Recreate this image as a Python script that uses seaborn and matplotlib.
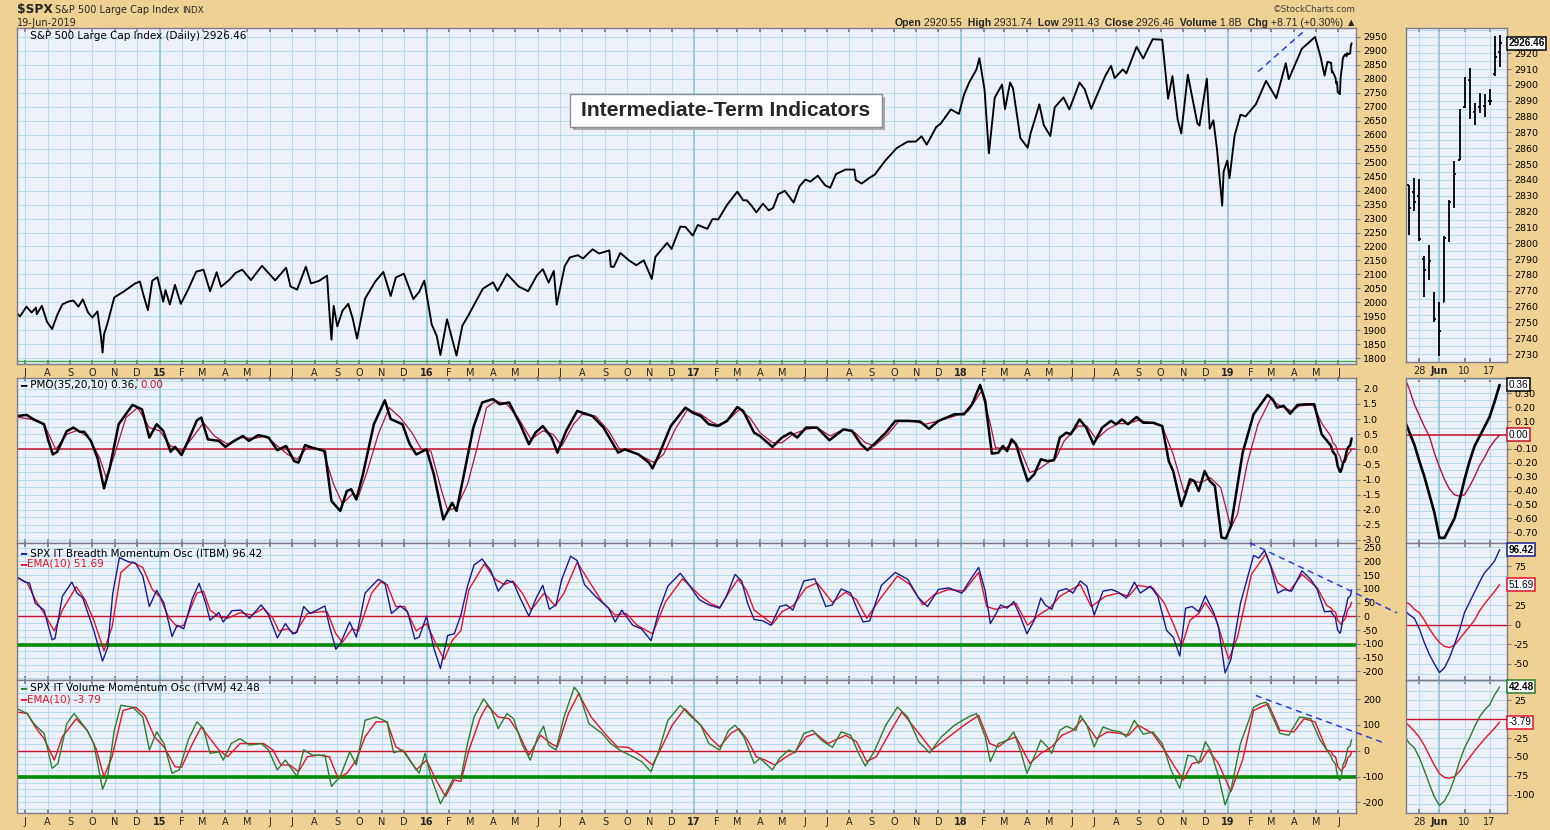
import numpy as np
import pandas as pd
import seaborn as sns
import matplotlib.pyplot as plt
from matplotlib.patches import Rectangle
from matplotlib.ticker import MultipleLocator, FormatStrFormatter
from matplotlib.transforms import blended_transform_factory
from matplotlib import font_manager

# ---------------- data ----------------

# S&P 500 daily, closes / swing extremes
price_dates = [
    "2014-06-20", "2014-06-24", "2014-07-03", "2014-07-10", "2014-07-16", "2014-07-17", "2014-07-24",
    "2014-07-31", "2014-08-07", "2014-08-14", "2014-08-21", "2014-08-29", "2014-09-05", "2014-09-12",
    "2014-09-18", "2014-09-25", "2014-10-01", "2014-10-08", "2014-10-13", "2014-10-15", "2014-10-17",
    "2014-10-22", "2014-10-31", "2014-11-13", "2014-11-28", "2014-12-05", "2014-12-10", "2014-12-16",
    "2014-12-22", "2014-12-29",
    "2015-01-06", "2015-01-09", "2015-01-15", "2015-01-22", "2015-01-30", "2015-02-09", "2015-02-20",
    "2015-03-02", "2015-03-11", "2015-03-20", "2015-03-26", "2015-04-06", "2015-04-15", "2015-04-24",
    "2015-05-06", "2015-05-21", "2015-06-08", "2015-06-23", "2015-06-29", "2015-07-08", "2015-07-20",
    "2015-07-27", "2015-08-07", "2015-08-18", "2015-08-21", "2015-08-24", "2015-08-27", "2015-09-01",
    "2015-09-08", "2015-09-16", "2015-09-22", "2015-09-28", "2015-10-09", "2015-10-23", "2015-11-03",
    "2015-11-13", "2015-11-20", "2015-12-01", "2015-12-09", "2015-12-14", "2015-12-22", "2015-12-29",
    "2016-01-08", "2016-01-15", "2016-01-20", "2016-01-29", "2016-02-11", "2016-02-19", "2016-02-26",
    "2016-03-18", "2016-04-01", "2016-04-07", "2016-04-20", "2016-05-06", "2016-05-19", "2016-05-31",
    "2016-06-08", "2016-06-16", "2016-06-23", "2016-06-27", "2016-07-08", "2016-07-15", "2016-07-26",
    "2016-08-02", "2016-08-15", "2016-08-24", "2016-09-07", "2016-09-09", "2016-09-13", "2016-09-22",
    "2016-10-04", "2016-10-14", "2016-10-24", "2016-11-04", "2016-11-09", "2016-11-25", "2016-12-01",
    "2016-12-13", "2016-12-20", "2016-12-30",
    "2017-01-06", "2017-01-19", "2017-01-26", "2017-02-03", "2017-02-15", "2017-03-01", "2017-03-09",
    "2017-03-14", "2017-03-21", "2017-03-27", "2017-04-05", "2017-04-13", "2017-04-19", "2017-04-26",
    "2017-05-05", "2017-05-17", "2017-05-25", "2017-06-02", "2017-06-09", "2017-06-19", "2017-06-29",
    "2017-07-06", "2017-07-14", "2017-07-27", "2017-08-08", "2017-08-10", "2017-08-18", "2017-08-29",
    "2017-09-05", "2017-09-19", "2017-10-05", "2017-10-20", "2017-10-31", "2017-11-08", "2017-11-15",
    "2017-11-28", "2017-12-04", "2017-12-18", "2017-12-29",
    "2018-01-05", "2018-01-12", "2018-01-22", "2018-01-26", "2018-02-02", "2018-02-05", "2018-02-08",
    "2018-02-16", "2018-02-26", "2018-03-02", "2018-03-09", "2018-03-13", "2018-03-23", "2018-04-02",
    "2018-04-06", "2018-04-18", "2018-04-24", "2018-05-03", "2018-05-09", "2018-05-21", "2018-05-29",
    "2018-06-12", "2018-06-19", "2018-06-28", "2018-07-05", "2018-07-17", "2018-07-25", "2018-07-30",
    "2018-08-10", "2018-08-15", "2018-08-29", "2018-09-07", "2018-09-20", "2018-10-03", "2018-10-11",
    "2018-10-17", "2018-10-24", "2018-10-29", "2018-11-07", "2018-11-20", "2018-11-23", "2018-12-03",
    "2018-12-07", "2018-12-12", "2018-12-17", "2018-12-24", "2018-12-26", "2018-12-31",
    "2019-01-03", "2019-01-10", "2019-01-18", "2019-01-25", "2019-02-08", "2019-02-22", "2019-03-08",
    "2019-03-21", "2019-03-25", "2019-04-12", "2019-04-30", "2019-05-07", "2019-05-13", "2019-05-17",
]
price_values = [
    1962, 1950, 1985, 1964, 1982, 1958, 1988, 1931, 1905, 1955, 1993, 2003, 2007, 1985,
    2011, 1965, 1946, 1968, 1874, 1821, 1886, 1928, 2018, 2039, 2067, 2075, 2026, 1972,
    2078, 2090,
    2003, 2044, 1993, 2063, 1995, 2046, 2110, 2117, 2040, 2108, 2056, 2080, 2106, 2117,
    2080, 2131, 2079, 2124, 2057, 2046, 2128, 2068, 2077, 2096, 1971, 1867, 1988, 1914,
    1970, 1995, 1943, 1871, 2014, 2075, 2109, 2023, 2089, 2103, 2047, 2012, 2038, 2078,
    1922, 1880, 1812, 1940, 1810, 1917, 1948, 2049, 2072, 2041, 2102, 2057, 2040, 2097,
    2119, 2071, 2113, 1992, 2130, 2161, 2169, 2157, 2190, 2175, 2186, 2128, 2127, 2177,
    2150, 2133, 2151, 2084, 2163, 2213, 2191, 2271, 2270, 2239,
    2277, 2263, 2298, 2297, 2349, 2396, 2365, 2365, 2344, 2322, 2353, 2329, 2338, 2387,
    2399, 2357, 2415, 2439, 2432, 2453, 2419, 2410, 2459, 2475, 2475, 2438, 2425, 2446,
    2457, 2506, 2552, 2575, 2575, 2594, 2564, 2627, 2639, 2690, 2674,
    2743, 2786, 2833, 2873, 2762, 2649, 2533, 2732, 2779, 2691, 2786, 2765, 2588, 2553,
    2604, 2708, 2634, 2595, 2697, 2733, 2690, 2786, 2762, 2692, 2736, 2809, 2846, 2802,
    2833, 2819, 2914, 2872, 2941, 2939, 2728, 2809, 2656, 2604, 2814, 2641, 2632, 2800,
    2621, 2651, 2546, 2346, 2468, 2507,
    2444, 2596, 2671, 2665, 2708, 2792, 2730, 2855, 2798, 2907, 2949, 2884, 2811, 2860,
]

# last four weeks, daily bars (zoom panel on the right)
recent_dates = [
    "2019-05-22", "2019-05-23", "2019-05-24", "2019-05-28", "2019-05-29", "2019-05-30", "2019-05-31",
    "2019-06-03", "2019-06-04", "2019-06-05", "2019-06-06", "2019-06-07", "2019-06-10", "2019-06-11",
    "2019-06-12", "2019-06-13", "2019-06-14", "2019-06-17", "2019-06-18", "2019-06-19",
]
recent_open = [2856.06, 2836.70, 2832.41, 2830.03, 2790.25, 2786.94, 2766.15, 2751.53, 2762.64, 2818.09,
               2828.51, 2852.87, 2885.83, 2903.27, 2882.73, 2886.24, 2886.82, 2889.75, 2906.71, 2920.55]
recent_high = [2868.88, 2836.70, 2841.36, 2840.51, 2792.03, 2799.00, 2768.98, 2763.07, 2804.49, 2827.28,
               2852.10, 2884.97, 2904.77, 2910.61, 2888.57, 2895.24, 2894.45, 2897.27, 2930.79, 2931.74]
recent_low = [2851.42, 2805.49, 2820.19, 2801.58, 2766.06, 2776.74, 2750.52, 2728.81, 2762.64, 2800.92,
              2822.45, 2852.87, 2885.51, 2878.53, 2874.68, 2881.99, 2879.62, 2887.30, 2905.44, 2911.43]
recent_close = [2856.27, 2822.24, 2826.06, 2802.39, 2783.02, 2788.86, 2752.06, 2744.45, 2803.27, 2826.15,
                2843.49, 2873.34, 2886.73, 2885.72, 2879.84, 2891.64, 2886.98, 2889.67, 2917.75, 2926.46]
recent_pmo = [0.11, 0.02, -0.07, -0.19, -0.30, -0.43, -0.56, -0.74, -0.74, -0.67,
              -0.60, -0.47, -0.32, -0.19, -0.08, -0.01, 0.06, 0.13, 0.24, 0.36]
recent_pmo_sig = [0.42, 0.33, 0.22, 0.14, 0.06, -0.01, -0.13, -0.23, -0.32, -0.39,
                  -0.43, -0.44, -0.43, -0.37, -0.30, -0.22, -0.16, -0.09, -0.04, 0.00]
recent_itbm = [19, 13, 8.5, -5, -23, -38, -50, -61, -55, -42, -25, -7, 16, 29, 42, 55, 67, 74, 82, 96.42]
recent_itbm_ema = [30, 27, 20, 15.5, 6, -5, -14.5, -22.5, -27.5, -29, -26, -18, -10, -2, 6, 18, 27, 35, 43, 51.69]
recent_itvm = [-22, -32, -38, -51, -68, -86, -103, -114, -108, -96, -78, -56, -38, -25, -10, 3, 12, 19, 32, 42.48]
recent_itvm_ema = [-3, -9, -16, -24, -35, -48, -61, -72, -77, -78, -76, -69, -60, -51, -42, -34, -26, -19, -12, -3.79]
recent_volume = "1.8B"

# PMO(35,20,10)
pmo_dates = [
    "2014-06-20", "2014-07-03", "2014-07-12", "2014-07-27", "2014-08-02", "2014-08-08", "2014-08-14",
    "2014-08-27", "2014-09-05", "2014-09-14", "2014-09-20", "2014-09-29", "2014-10-08", "2014-10-17",
    "2014-10-25", "2014-11-06", "2014-11-25", "2014-12-08", "2014-12-18", "2014-12-28",
    "2015-01-06", "2015-01-16", "2015-01-22", "2015-01-31", "2015-02-09", "2015-02-21", "2015-02-27",
    "2015-03-08", "2015-03-23", "2015-04-01", "2015-04-13", "2015-04-25", "2015-05-03", "2015-05-16",
    "2015-05-30", "2015-06-11", "2015-06-23", "2015-07-04", "2015-07-10", "2015-07-19", "2015-07-28",
    "2015-08-15", "2015-08-24", "2015-09-05", "2015-09-14", "2015-09-20", "2015-09-27", "2015-10-06",
    "2015-10-21", "2015-11-05", "2015-11-13", "2015-11-29", "2015-12-09", "2015-12-18",
    "2016-01-01", "2016-01-11", "2016-01-24", "2016-02-05", "2016-02-11", "2016-02-23", "2016-03-05",
    "2016-03-17", "2016-04-01", "2016-04-10", "2016-04-23", "2016-05-08", "2016-05-20", "2016-05-29",
    "2016-06-08", "2016-06-20", "2016-06-28", "2016-07-10", "2016-07-25", "2016-08-15", "2016-08-30",
    "2016-09-19", "2016-09-28", "2016-10-17", "2016-10-31", "2016-11-05", "2016-11-14", "2016-11-30",
    "2016-12-20", "2016-12-30",
    "2017-01-10", "2017-01-21", "2017-02-02", "2017-02-15", "2017-03-01", "2017-03-09", "2017-03-24",
    "2017-04-01", "2017-04-18", "2017-05-01", "2017-05-13", "2017-05-22", "2017-06-03", "2017-06-18",
    "2017-07-05", "2017-07-24", "2017-08-05", "2017-08-17", "2017-08-26", "2017-09-04", "2017-09-20",
    "2017-10-03", "2017-10-21", "2017-11-06", "2017-11-18", "2017-12-01", "2017-12-23",
    "2018-01-05", "2018-01-16", "2018-01-27", "2018-02-03", "2018-02-12", "2018-02-21", "2018-02-27",
    "2018-03-05", "2018-03-11", "2018-03-17", "2018-03-24", "2018-04-02", "2018-04-11", "2018-04-20",
    "2018-04-29", "2018-05-08", "2018-05-16", "2018-05-25", "2018-05-31", "2018-06-12", "2018-06-21",
    "2018-07-01", "2018-07-13", "2018-07-25", "2018-08-01", "2018-08-09", "2018-08-17", "2018-08-29",
    "2018-09-07", "2018-09-21", "2018-10-03", "2018-10-12", "2018-10-18", "2018-10-29", "2018-11-04",
    "2018-11-10", "2018-11-16", "2018-11-22", "2018-11-30", "2018-12-07", "2018-12-14", "2018-12-23",
    "2018-12-29",
    "2019-01-05", "2019-01-21", "2019-02-05", "2019-02-24", "2019-03-03", "2019-03-09", "2019-03-18",
    "2019-03-27", "2019-04-06", "2019-04-18", "2019-04-29", "2019-05-09",
]
pmo_values = [
    1.10, 1.14, 1.00, 0.83, 0.28, -0.17, -0.08, 0.60, 0.72, 0.58, 0.58, 0.28, -0.28, -1.29,
    -0.60, 0.83, 1.47, 1.32, 0.39, 0.83,
    0.61, -0.08, 0.08, -0.19, 0.28, 0.96, 1.05, 0.33, 0.28, 0.08, 0.28, 0.44, 0.28, 0.47,
    0.39, -0.03, 0.11, -0.39, -0.44, 0.14, 0.06, -0.06, -1.71, -2.04, -1.38, -1.32, -1.66, -0.83,
    0.83, 1.62, 1.00, 0.83, 0.17, -0.17,
    0.00, -0.83, -2.32, -1.77, -2.04, -0.61, 0.72, 1.55, 1.66, 1.49, 1.55, 0.83, 0.17, 0.55,
    0.77, 0.39, -0.11, 0.61, 1.27, 1.10, 0.72, -0.11, 0.00, -0.17, -0.44, -0.63, -0.17, 0.77,
    1.38, 1.21,
    1.10, 0.83, 0.77, 0.94, 1.40, 1.27, 0.55, 0.44, 0.08, 0.39, 0.55, 0.39, 0.72, 0.72,
    0.30, 0.66, 0.61, 0.17, -0.03, 0.17, 0.55, 0.94, 0.94, 0.92, 0.68, 0.94, 1.16,
    1.16, 1.49, 2.13, 1.60, -0.14, -0.11, 0.11, -0.06, 0.33, 0.17, -0.39, -1.05, -0.83, -0.33,
    -0.39, -0.36, 0.39, 0.55, 0.50, 0.99, 0.72, 0.17, 0.72, 0.94, 0.83, 0.99, 0.83, 1.07,
    0.88, 0.88, 0.77, -0.39, -0.72, -1.88, -1.49, -0.99, -1.05, -1.38, -0.72, -1.05, -1.21, -2.92,
    -2.95,
    -2.54, -0.11, 1.16, 1.80, 1.66, 1.38, 1.44, 1.18, 1.47, 1.49, 1.49, 0.50,
]
pmo_sig_dates = [
    "2014-06-20", "2014-07-10", "2014-07-27", "2014-08-12", "2014-08-27", "2014-09-11", "2014-09-26",
    "2014-10-11", "2014-10-20", "2014-10-30", "2014-11-16", "2014-12-02", "2014-12-18",
    "2015-01-01", "2015-01-16", "2015-01-31", "2015-02-15", "2015-03-02", "2015-03-17", "2015-04-04",
    "2015-04-21", "2015-05-10", "2015-05-26", "2015-06-11", "2015-06-25", "2015-07-08", "2015-07-22",
    "2015-08-12", "2015-08-27", "2015-09-08", "2015-09-21", "2015-09-30", "2015-10-12", "2015-10-27",
    "2015-11-11", "2015-11-26", "2015-12-12", "2015-12-25",
    "2016-01-07", "2016-01-23", "2016-01-30", "2016-02-11", "2016-02-26", "2016-03-09", "2016-03-23",
    "2016-04-05", "2016-04-20", "2016-05-05", "2016-05-23", "2016-06-08", "2016-06-22", "2016-07-04",
    "2016-07-20", "2016-08-01", "2016-08-19", "2016-09-06", "2016-09-21", "2016-10-03", "2016-10-21",
    "2016-11-07", "2016-11-20", "2016-12-06", "2016-12-23",
    "2017-01-10", "2017-01-24", "2017-02-05", "2017-02-20", "2017-03-04", "2017-03-18", "2017-04-01",
    "2017-04-18", "2017-05-01", "2017-05-16", "2017-06-03", "2017-06-18", "2017-07-06", "2017-07-24",
    "2017-08-09", "2017-08-23", "2017-09-04", "2017-09-23", "2017-10-08", "2017-10-26", "2017-11-13",
    "2017-12-01", "2017-12-23",
    "2018-01-11", "2018-01-29", "2018-02-09", "2018-02-17", "2018-03-02", "2018-03-14", "2018-03-24",
    "2018-04-05", "2018-04-17", "2018-05-02", "2018-05-11", "2018-05-22", "2018-06-10", "2018-06-22",
    "2018-07-05", "2018-07-20", "2018-08-04", "2018-08-18", "2018-08-31", "2018-09-17", "2018-10-03",
    "2018-10-18", "2018-11-02", "2018-11-13", "2018-11-25", "2018-12-08", "2018-12-22",
    "2019-01-05", "2019-01-14", "2019-01-27", "2019-02-11", "2019-02-28", "2019-03-13", "2019-03-29",
    "2019-04-09", "2019-04-27", "2019-05-10",
]
pmo_sig_values = [
    1.07, 0.99, 0.83, 0.00, 0.50, 0.63, 0.39, -0.28, -0.94, -0.28, 1.05, 1.38, 0.72,
    0.61, 0.11, -0.06, 0.39, 0.88, 0.44, 0.17, 0.39, 0.36, 0.44, 0.11, -0.17, -0.33, 0.06,
    0.00, -1.16, -1.80, -1.49, -1.55, -0.72, 0.50, 1.38, 1.05, 0.55, 0.00,
    -0.06, -1.49, -2.02, -1.93, -1.16, -0.06, 1.38, 1.60, 1.49, 1.05, 0.33, 0.61, 0.50, 0.11,
    0.83, 1.16, 1.10, 0.61, 0.00, -0.03, -0.22, -0.44, -0.17, 0.66, 1.32,
    1.16, 0.92, 0.77, 1.05, 1.32, 1.05, 0.55, 0.22, 0.22, 0.50, 0.66, 0.72, 0.44, 0.66,
    0.55, 0.22, 0.11, 0.50, 0.94, 0.94, 0.83, 0.94, 1.10,
    1.27, 1.93, 0.94, 0.06, 0.00, 0.28, -0.06, -0.77, -0.66, -0.41, -0.28, 0.28, 0.77, 0.77,
    0.33, 0.66, 0.85, 0.85, 0.96, 0.88, 0.77, -0.17, -1.43, -1.05, -1.10, -0.94, -1.27,
    -2.59, -2.15, -0.50, 0.83, 1.66, 1.44, 1.27, 1.44, 1.47, 0.83,
]

# SPX IT Breadth Momentum Osc and its EMA(10)
itbm_dates = [
    "2014-06-20", "2014-07-01", "2014-07-07", "2014-07-15", "2014-07-27", "2014-08-07", "2014-08-11",
    "2014-08-21", "2014-09-03", "2014-09-10", "2014-09-18", "2014-10-03", "2014-10-15", "2014-10-22",
    "2014-10-29", "2014-11-07", "2014-11-19", "2014-11-29", "2014-12-09", "2014-12-18", "2014-12-28",
    "2015-01-07", "2015-01-18", "2015-01-25", "2015-02-03", "2015-02-15", "2015-02-24", "2015-03-05",
    "2015-03-11", "2015-03-23", "2015-03-29", "2015-04-10", "2015-04-22", "2015-05-04", "2015-05-20",
    "2015-05-30", "2015-06-11", "2015-06-22", "2015-07-02", "2015-07-08", "2015-07-17", "2015-07-26",
    "2015-08-15", "2015-08-21", "2015-08-30", "2015-09-05", "2015-09-18", "2015-09-27", "2015-10-09",
    "2015-10-27", "2015-11-05", "2015-11-14", "2015-11-26", "2015-12-06", "2015-12-16", "2015-12-22",
    "2016-01-01", "2016-01-11", "2016-01-20", "2016-01-30", "2016-02-08", "2016-02-17", "2016-02-26",
    "2016-03-06", "2016-03-17", "2016-03-29", "2016-04-08", "2016-04-20", "2016-04-29", "2016-05-08",
    "2016-05-20", "2016-05-30", "2016-06-08", "2016-06-17", "2016-06-26", "2016-07-04", "2016-07-16",
    "2016-07-25", "2016-08-04", "2016-08-19", "2016-09-06", "2016-09-15", "2016-09-24", "2016-10-09",
    "2016-10-21", "2016-11-03", "2016-11-14", "2016-11-26", "2016-12-13", "2016-12-23",
    "2017-01-08", "2017-01-21", "2017-02-05", "2017-02-14", "2017-02-26", "2017-03-07", "2017-03-15",
    "2017-03-24", "2017-04-05", "2017-04-16", "2017-04-28", "2017-05-07", "2017-05-16", "2017-05-31",
    "2017-06-15", "2017-06-30", "2017-07-09", "2017-07-21", "2017-08-03", "2017-08-12", "2017-08-20",
    "2017-08-29", "2017-09-14", "2017-10-03", "2017-10-20", "2017-11-04", "2017-11-16", "2017-12-01",
    "2017-12-15",
    "2018-01-02", "2018-01-14", "2018-01-25", "2018-02-03", "2018-02-10", "2018-02-18", "2018-02-24",
    "2018-03-05", "2018-03-14", "2018-03-24", "2018-04-01", "2018-04-11", "2018-04-20", "2018-04-26",
    "2018-05-05", "2018-05-14", "2018-05-25", "2018-06-03", "2018-06-13", "2018-06-22", "2018-07-02",
    "2018-07-14", "2018-07-26", "2018-08-04", "2018-08-15", "2018-08-26", "2018-09-03", "2018-09-17",
    "2018-09-27", "2018-10-09", "2018-10-18", "2018-10-27", "2018-11-04", "2018-11-13", "2018-11-22",
    "2018-12-01", "2018-12-12", "2018-12-19", "2018-12-28",
    "2019-01-05", "2019-01-18", "2019-02-05", "2019-02-12", "2019-02-20", "2019-02-28", "2019-03-10",
    "2019-03-19", "2019-03-29", "2019-04-12", "2019-04-24", "2019-05-03", "2019-05-13",
]
itbm_values = [
    144, 125, 122, 48, 23, -85, -80, 73, 125, 85, 67, -51, -162, -113, 85, 214, 199, 194, 147, 36, 95,
    48, -73, -32, -45, 67, 120, 48, -14, 14, -20, 21, 23, -7, 42, 5, -78, -26, -63, -57, 36, 11,
    38, -32, -119, -100, -20, -75, 85, 135, 122, 11, 38, 17, -82, -75,
    1, -115, -189, -69, -63, 5, 110, 187, 209, 166, 92, 132, 122, 67, 1, 67, 113, 26, 42, 135, 219,
    203, 116, 73, 30, -20, 23, -32, -45, -88, 23, 110, 157, 122,
    61, 42, 30, 73, 153, 129, 48, -11, -16, -32, 36, 42, 23, 129, 137, 36, 42, 100, 85, 26, -20,
    -16, 113, 160, 135, 67, 36, 98, 104,
    85, 135, 178, 92, -26, 11, 42, 30, 54, -7, -63, -14, 67, 42, 26, 92, 101, 85, 129, 110, 5,
    92, 98, 88, 67, 125, 85, 110, 73, -51, -75, -144, 30, 36, 17, 75, 17, -38, -205,
    -156, 48, 222, 212, 240, 184, 85, 98, 92, 166, 135, 98, 17,
]
itbm_ema_dates = [
    "2014-06-20", "2014-07-04", "2014-07-15", "2014-07-27", "2014-08-10", "2014-08-21", "2014-09-09",
    "2014-09-21", "2014-10-03", "2014-10-17", "2014-10-28", "2014-11-09", "2014-11-25", "2014-12-09",
    "2014-12-22",
    "2015-01-01", "2015-01-13", "2015-01-25", "2015-02-03", "2015-02-21", "2015-03-02", "2015-03-11",
    "2015-03-23", "2015-04-04", "2015-04-21", "2015-05-07", "2015-05-23", "2015-06-05", "2015-06-13",
    "2015-06-25", "2015-07-05", "2015-07-22", "2015-08-09", "2015-08-18", "2015-08-30", "2015-09-08",
    "2015-09-21", "2015-09-30", "2015-10-18", "2015-10-30", "2015-11-08", "2015-11-20", "2015-12-02",
    "2015-12-18",
    "2016-01-01", "2016-01-14", "2016-01-25", "2016-02-05", "2016-02-17", "2016-02-28", "2016-03-20",
    "2016-04-04", "2016-04-16", "2016-04-28", "2016-05-11", "2016-05-23", "2016-06-10", "2016-06-25",
    "2016-07-07", "2016-07-25", "2016-08-10", "2016-08-28", "2016-09-15", "2016-09-30", "2016-10-15",
    "2016-11-05", "2016-11-23", "2016-12-16",
    "2017-01-10", "2017-01-24", "2017-02-05", "2017-02-17", "2017-03-02", "2017-03-13", "2017-03-24",
    "2017-04-08", "2017-04-18", "2017-05-01", "2017-05-16", "2017-06-03", "2017-06-18", "2017-07-09",
    "2017-07-27", "2017-08-11", "2017-08-25", "2017-09-13", "2017-10-06", "2017-10-23", "2017-11-10",
    "2017-11-25", "2017-12-15",
    "2018-01-05", "2018-01-25", "2018-02-05", "2018-02-17", "2018-03-05", "2018-03-17", "2018-04-02",
    "2018-04-17", "2018-05-02", "2018-05-16", "2018-05-28", "2018-06-13", "2018-06-28", "2018-07-17",
    "2018-08-04", "2018-08-18", "2018-08-31", "2018-09-20", "2018-10-06", "2018-10-20", "2018-10-30",
    "2018-11-10", "2018-11-22", "2018-12-01", "2018-12-15",
    "2019-01-02", "2019-01-14", "2019-02-02", "2019-02-22", "2019-03-10", "2019-03-26", "2019-04-12",
    "2019-05-03", "2019-05-16",
]
itbm_ema_values = [
    141, 122, 61, 11, -53, 23, 108, 61, -14, -125, -38, 160, 197, 178, 98,
    73, -1, -38, -32, 85, 92, 23, -1, -7, 14, 5, 30, -7, -53, -45, -63, 11, 17, 17, -63, -94,
    -45, -53, 85, 125, 116, 36, 36, -53,
    -26, -100, -156, -88, -51, 98, 191, 135, 116, 129, 85, 23, 85, 38, 85, 197, 129, 54, 5, 11,
    -32, -63, 54, 137,
    73, 46, 33, 85, 135, 98, 23, -7, -28, 17, 38, 104, 122, 51, 88, 61, -7, 67, 147, 116, 42,
    79, 98,
    92, 160, 36, 26, 36, 48, -32, 5, 30, 73, 92, 116, 36, 73, 85, 73, 113, 104, 48, -38, -106,
    -14, 11, 51, -7,
    -156, -75, 153, 228, 122, 92, 153, 104, 40,
]

# SPX IT Volume Momentum Osc and its EMA(10)
itvm_dates = [
    "2014-06-20", "2014-07-04", "2014-07-13", "2014-07-27", "2014-08-07", "2014-08-15", "2014-08-27",
    "2014-09-06", "2014-09-15", "2014-09-24", "2014-10-03", "2014-10-15", "2014-10-22", "2014-10-31",
    "2014-11-09", "2014-11-25", "2014-12-09", "2014-12-18", "2014-12-28",
    "2015-01-07", "2015-01-18", "2015-01-28", "2015-02-09", "2015-02-21", "2015-03-02", "2015-03-11",
    "2015-03-23", "2015-03-29", "2015-04-09", "2015-04-21", "2015-05-04", "2015-05-20", "2015-05-30",
    "2015-06-11", "2015-06-22", "2015-07-08", "2015-07-17", "2015-07-29", "2015-08-15", "2015-08-24",
    "2015-09-05", "2015-09-18", "2015-09-27", "2015-10-09", "2015-10-24", "2015-11-08", "2015-11-17",
    "2015-11-29", "2015-12-12", "2015-12-22", "2015-12-30",
    "2016-01-07", "2016-01-20", "2016-01-30", "2016-02-08", "2016-02-17", "2016-02-26", "2016-03-06",
    "2016-03-19", "2016-03-29", "2016-04-08", "2016-04-20", "2016-04-29", "2016-05-11", "2016-05-22",
    "2016-06-01", "2016-06-09", "2016-06-16", "2016-06-26", "2016-07-07", "2016-07-21", "2016-07-28",
    "2016-08-10", "2016-08-28", "2016-09-09", "2016-09-21", "2016-10-09", "2016-10-21", "2016-11-03",
    "2016-11-14", "2016-11-26", "2016-12-13", "2016-12-26",
    "2017-01-10", "2017-01-21", "2017-02-05", "2017-02-17", "2017-02-26", "2017-03-10", "2017-03-24",
    "2017-04-01", "2017-04-18", "2017-04-28", "2017-05-10", "2017-05-19", "2017-05-31", "2017-06-12",
    "2017-06-24", "2017-07-09", "2017-07-21", "2017-08-03", "2017-08-14", "2017-08-23", "2017-09-04",
    "2017-09-20", "2017-10-06", "2017-10-20", "2017-11-04", "2017-11-19", "2017-12-05", "2017-12-23",
    "2018-01-11", "2018-01-22", "2018-02-03", "2018-02-10", "2018-02-21", "2018-03-05", "2018-03-14",
    "2018-03-24", "2018-04-01", "2018-04-11", "2018-04-20", "2018-04-29", "2018-05-05", "2018-05-16",
    "2018-05-25", "2018-06-07", "2018-06-13", "2018-06-22", "2018-07-02", "2018-07-14", "2018-07-26",
    "2018-08-07", "2018-08-15", "2018-08-26", "2018-09-07", "2018-09-20", "2018-10-03", "2018-10-15",
    "2018-10-27", "2018-11-07", "2018-11-16", "2018-11-22", "2018-12-01", "2018-12-08", "2018-12-19",
    "2018-12-28",
    "2019-01-05", "2019-01-18", "2019-02-05", "2019-02-14", "2019-02-22", "2019-03-03", "2019-03-13",
    "2019-03-25", "2019-04-09", "2019-04-24", "2019-05-07",
]
itvm_values = [
    163, 144, 105, 67, -68, -49, 105, 144, 112, 79, 28, -149, -100, 79, 176, 169, 131, 3, 73,
    28, -87, -74, 41, 112, 86, -10, -4, -36, 28, 47, 22, 28, 3, -74, -36, -100, 3, -17, -17, -138,
    -100, -4, -55, 118, 131, 112, -8, 3, -49, -87, -10,
    -100, -205, -151, -100, -106, 28, 131, 201, 163, 86, 144, 124, 22, -36, 54, 95, 22, 3, 131, 246,
    221, 105, 67, 28, 3, -23, -42, -81, 3, 118, 176, 137,
    99, 28, 3, 79, 99, 54, -49, -29, -74, -29, 3, -8, 67, 79, 41, 13, 73, 60, -10, -59, -4,
    99, 169, 131, 35, -8, 54, 99,
    131, 144, 54, -42, 28, 41, 73, -8, -87, -23, 41, 15, -10, 79, 95, 79, 137, 99, 15, 92, 79,
    73, 54, 118, 64, 73, 28, -74, -145, -17, -23, -49, 35, 3, -100, -209,
    -151, 28, 169, 182, 188, 131, 67, 60, 131, 124, 41,
]
itvm_ema_dates = [
    "2014-06-20", "2014-07-04", "2014-07-15", "2014-07-27", "2014-08-10", "2014-08-21", "2014-09-09",
    "2014-09-24", "2014-10-06", "2014-10-17", "2014-10-28", "2014-11-12", "2014-11-29", "2014-12-12",
    "2014-12-25",
    "2015-01-07", "2015-01-22", "2015-01-31", "2015-02-15", "2015-02-27", "2015-03-11", "2015-03-23",
    "2015-04-04", "2015-04-21", "2015-05-07", "2015-05-23", "2015-06-05", "2015-06-16", "2015-06-28",
    "2015-07-10", "2015-07-22", "2015-08-06", "2015-08-21", "2015-09-02", "2015-09-14", "2015-09-27",
    "2015-10-09", "2015-10-24", "2015-11-08", "2015-11-20", "2015-12-02", "2015-12-18",
    "2016-01-01", "2016-01-14", "2016-01-27", "2016-02-08", "2016-02-17", "2016-02-28", "2016-03-15",
    "2016-03-24", "2016-04-08", "2016-04-23", "2016-05-05", "2016-05-20", "2016-06-05", "2016-06-19",
    "2016-06-28", "2016-07-13", "2016-07-27", "2016-08-13", "2016-09-03", "2016-09-18", "2016-10-03",
    "2016-10-21", "2016-11-05", "2016-11-20", "2016-12-02", "2016-12-19",
    "2017-01-10", "2017-01-24", "2017-02-05", "2017-02-20", "2017-03-03", "2017-03-15", "2017-03-27",
    "2017-04-08", "2017-04-21", "2017-05-07", "2017-05-19", "2017-06-03", "2017-06-16", "2017-07-03",
    "2017-07-27", "2017-08-11", "2017-08-25", "2017-09-07", "2017-09-26", "2017-10-12", "2017-11-01",
    "2017-11-22", "2017-12-12",
    "2018-01-05", "2018-01-25", "2018-02-09", "2018-02-21", "2018-03-05", "2018-03-17", "2018-04-05",
    "2018-04-20", "2018-05-05", "2018-05-19", "2018-06-03", "2018-06-16", "2018-07-05", "2018-07-20",
    "2018-08-07", "2018-08-18", "2018-08-31", "2018-09-20", "2018-10-06", "2018-10-20", "2018-11-01",
    "2018-11-13", "2018-11-25", "2018-12-05", "2018-12-19",
    "2019-01-05", "2019-01-21", "2019-02-05", "2019-02-25", "2019-03-13", "2019-04-01", "2019-04-15",
    "2019-04-30", "2019-05-16",
]
itvm_ema_values = [
    150, 144, 92, 47, -36, 54, 124, 79, 9, -100, -23, 156, 169, 137, 54,
    15, -62, -64, 28, 92, 47, 3, -23, 28, 28, 28, 3, -55, -55, -81, -23, -17, -23, -106, -87,
    -36, 54, 112, 112, 15, -4, -74,
    -36, -113, -177, -113, -119, 3, 131, 176, 131, 124, 73, -17, 60, 28, 15, 144, 221, 131, 60,
    15, 13, -20, -55, 28, 99, 163,
    99, 47, 15, 67, 86, 41, -23, -36, -55, -23, -4, 54, 67, 28, 60, 35, -42, -23, 73, 150, 79,
    3, 47,
    99, 137, 28, 15, 41, 54, -49, -10, 15, 60, 79, 124, 47, 73, 67, 60, 99, 67, 3, -62, -113,
    -49, -42, 3, -49,
    -158, -36, 156, 182, 79, 73, 124, 112, 3,
]

# hand drawn trend lines and reference levels
price_trend_dates = ["2019-02-11", "2019-04-15"]
price_trend_values = [2825, 2970]
itbm_trend_dates = ["2019-01-31", "2019-08-20"]
itbm_trend_values = [267, 13]
itvm_trend_dates = ["2019-02-08", "2019-08-01"]
itvm_trend_values = [214, 32]
itbm_floor = -105
itvm_floor = -100
price_base = 1790

zoom_tick_dates = ["2019-05-28", "2019-06-03", "2019-06-10", "2019-06-17"]
zoom_tick_labels = ["28", "Jun", "10", "17"]

# ---------------- style ----------------
BG = "#F0D194"
PANEL = "#EEF0F8"
GRID = "#A9DAE9"
GRID_DARK = "#84C6DF"
FRAME = "#7C7C8A"
PMO_SIG = "#B5103F"
ZERO_RED = "#C8102E"
EMA_RED = "#E8102A"
NAVY = "#1A1A90"
OSC_GREEN = "#2B7D2B"
FLOOR_GREEN = "#008A00"
TREND_BLUE = "#2B3FE0"

W, H = 1550, 830

sns.set_theme(style="white")
plt.rcParams["font.family"] = ["DejaVu Sans"]
plt.rcParams["axes.unicode_minus"] = False

HEAD_FONT = ["Liberation Sans", "DejaVu Sans"]
names = {f.name for f in font_manager.fontManager.ttflist}
if "Liberation Sans Narrow" in names:
    BOX_FONT, BOX_SIZE = ["Liberation Sans Narrow", "Liberation Sans"], 18
else:
    BOX_FONT, BOX_SIZE = ["Liberation Sans", "DejaVu Sans"], 15.2


def rect(x0, y0, x1, y1):
    return [x0 / W, 1 - y1 / H, (x1 - x0) / W, (y1 - y0) / H]


def table(dates, values):
    return pd.DataFrame({"date": pd.to_datetime(dates), "value": values})


def line(ax, df, color, lw, x="date"):
    sns.lineplot(data=df, x=x, y="value", ax=ax, color=color, linewidth=lw,
                 estimator=None, errorbar=None, legend=False)


def dress(ax, ylim, ticks, minor, fmt):
    ax.set_facecolor(PANEL)
    ax.set_axisbelow(True)
    ax.set_ylim(*ylim)
    ax.set_yticks(ticks)
    if minor:
        ax.yaxis.set_minor_locator(MultipleLocator(minor))
    ax.yaxis.set_major_formatter(FormatStrFormatter(fmt))
    ax.yaxis.tick_right()
    ax.tick_params(axis="y", which="major", labelsize=6.8, length=3, width=0.8,
                   color=FRAME, pad=2, labelcolor="black")
    ax.tick_params(axis="y", which="minor", length=0)
    ax.grid(True, which="major", color=GRID, lw=0.6)
    ax.grid(True, which="minor", axis="y", color=GRID, lw=0.6)
    for s in ax.spines.values():
        s.set_color(FRAME)
        s.set_linewidth(1.0)
    ax.set_xlabel("")
    ax.set_ylabel("")


month_starts = pd.date_range("2014-07-01", "2019-06-01", freq="MS")
month_labels = [f"{d.year % 100:02d}" if d.month == 1 else "JFMAMJJASOND"[d.month - 1]
                for d in month_starts]
year_starts = [d for d in month_starts if d.month == 1]
X_START, X_END = pd.Timestamp("2014-06-20"), pd.Timestamp("2019-06-25")


def date_axis(ax, labels):
    ax.set_xlim(X_START, X_END)
    ax.set_xticks(month_starts)
    ax.set_xticklabels(month_labels if labels else [""] * len(month_starts))
    ax.tick_params(axis="x", direction="in", top=True, bottom=True, length=3,
                   color=FRAME, labelsize=7, pad=3)
    for lab in ax.get_xticklabels():
        if lab.get_text().isdigit():
            lab.set_fontweight("bold")
    for d in year_starts:
        ax.axvline(d, color=GRID_DARK, lw=1.1, zorder=0.8)


zoom_x = np.arange(len(recent_dates))
zoom_ticks = [recent_dates.index(d) for d in zoom_tick_dates]


def day_axis(ax, labels):
    ax.set_xlim(0.33, 20.47)
    ax.set_xticks(zoom_ticks)
    ax.set_xticklabels(zoom_tick_labels if labels else [""] * len(zoom_ticks))
    ax.tick_params(axis="x", direction="in", top=True, bottom=True, length=3,
                   color=FRAME, labelsize=7, pad=3)
    for lab in ax.get_xticklabels():
        if lab.get_text() == "Jun":
            lab.set_fontweight("bold")
    ax.axvline(zoom_ticks[1], color=GRID_DARK, lw=1.1, zorder=0.8)


def tag(ax, y, text, edge, bold=False):
    # value flag on the right axis, it hides the tick label under it
    ax.text(1.015, y, text, transform=blended_transform_factory(ax.transAxes, ax.transData),
            ha="left", va="center", fontsize=7.2, family=HEAD_FONT,
            fontweight="bold" if bold else "normal", color="black", zorder=6, clip_on=False,
            bbox=dict(boxstyle="square,pad=0.15", fc="white", ec=edge, lw=1.1))


def legend_line(ax, y, parts, fs=7.5):
    prev = ax.text(0.0025, y, parts[0][0], color=parts[0][1], transform=ax.transAxes,
                   ha="left", va="center", fontsize=fs, zorder=6)
    for txt, col in parts[1:]:
        prev = ax.annotate(txt, xy=(1, 0), xycoords=prev, ha="left", va="bottom",
                           fontsize=fs, color=col, zorder=6)


# ---------------- figure ----------------
fig = plt.figure(figsize=(W / 100, H / 100), dpi=100, facecolor=BG)

ax_price = fig.add_axes(rect(17, 28, 1356, 364))
ax_pmo = fig.add_axes(rect(17, 378, 1356, 543))
ax_itbm = fig.add_axes(rect(17, 543, 1356, 680))
ax_itvm = fig.add_axes(rect(17, 680, 1356, 813))
rx_price = fig.add_axes(rect(1406, 28, 1507, 362))
rx_pmo = fig.add_axes(rect(1406, 378, 1507, 543))
rx_itbm = fig.add_axes(rect(1406, 543, 1507, 680))
rx_itvm = fig.add_axes(rect(1406, 680, 1507, 813))

# price
line(ax_price, table(price_dates + recent_dates, price_values + recent_close), "black", 1.35)
ax_price.plot(pd.to_datetime(price_trend_dates), price_trend_values, color=TREND_BLUE,
              lw=1.1, ls=(0, (4, 3)))
ax_price.axhline(price_base, color="#3AAA4A", lw=1.0)
dress(ax_price, (1780, 2981), np.arange(1800, 2951, 50), None, "%d")
date_axis(ax_price, True)

# PMO
ax_pmo.axhline(0, color=ZERO_RED, lw=1.1)
line(ax_pmo, table(pmo_sig_dates + recent_dates, pmo_sig_values + recent_pmo_sig), PMO_SIG, 0.9)
line(ax_pmo, table(pmo_dates + recent_dates, pmo_values + recent_pmo), "black", 1.8)
dress(ax_pmo, (-3.1, 2.36), np.arange(-3.0, 2.01, 0.5), 0.25, "%.1f")
date_axis(ax_pmo, False)

# ITBM
ax_itbm.axhline(0, color=ZERO_RED, lw=1.0)
ax_itbm.axhline(itbm_floor, color=FLOOR_GREEN, lw=2.6)
line(ax_itbm, table(itbm_ema_dates + recent_dates, itbm_ema_values + recent_itbm_ema), EMA_RED, 1.0)
line(ax_itbm, table(itbm_dates + recent_dates, itbm_values + recent_itbm), NAVY, 1.0)
ax_itbm.plot(pd.to_datetime(itbm_trend_dates), itbm_trend_values, color=TREND_BLUE,
             lw=1.1, ls=(0, (4, 3)), clip_on=False, zorder=5)
dress(ax_itbm, (-231, 267), np.arange(-200, 251, 50), 25, "%d")
date_axis(ax_itbm, False)

# ITVM
ax_itvm.axhline(0, color=ZERO_RED, lw=1.0)
ax_itvm.axhline(itvm_floor, color=FLOOR_GREEN, lw=2.6)
line(ax_itvm, table(itvm_ema_dates + recent_dates, itvm_ema_values + recent_itvm_ema), EMA_RED, 1.0)
line(ax_itvm, table(itvm_dates + recent_dates, itvm_values + recent_itvm), OSC_GREEN, 1.0)
ax_itvm.plot(pd.to_datetime(itvm_trend_dates), itvm_trend_values, color=TREND_BLUE,
             lw=1.1, ls=(0, (4, 3)), clip_on=False, zorder=5)
dress(ax_itvm, (-241, 274), np.arange(-200, 201, 100), 25, "%d")
date_axis(ax_itvm, True)

# right hand zoom: daily OHLC bars
rx_price.vlines(zoom_x, recent_low, recent_high, color="black", lw=1.3)
rx_price.hlines(recent_open, zoom_x - 0.38, zoom_x, color="black", lw=1.3)
rx_price.hlines(recent_close, zoom_x, zoom_x + 0.38, color="black", lw=1.3)
dress(rx_price, (2725, 2936), np.arange(2730, 2921, 10), 5, "%d")
day_axis(rx_price, True)
tag(rx_price, recent_close[-1], f"{recent_close[-1]:.2f}", "black", bold=True)

rx_pmo.axhline(0, color=ZERO_RED, lw=1.1)
line(rx_pmo, pd.DataFrame({"i": zoom_x, "value": recent_pmo_sig}), PMO_SIG, 1.0, x="i")
line(rx_pmo, pd.DataFrame({"i": zoom_x, "value": recent_pmo}), "black", 1.9, x="i")
dress(rx_pmo, (-0.777, 0.41), [0.3, 0.2, 0.1, -0.1, -0.2, -0.3, -0.4, -0.5, -0.6, -0.7], 0.05, "%.2f")
day_axis(rx_pmo, False)
tag(rx_pmo, recent_pmo[-1], f"{recent_pmo[-1]:.2f}", "black")
tag(rx_pmo, recent_pmo_sig[-1], f"{recent_pmo_sig[-1]:.2f}", ZERO_RED)

rx_itbm.axhline(0, color=ZERO_RED, lw=1.0)
line(rx_itbm, pd.DataFrame({"i": zoom_x, "value": recent_itbm_ema}), EMA_RED, 1.0, x="i")
line(rx_itbm, pd.DataFrame({"i": zoom_x, "value": recent_itbm}), NAVY, 1.0, x="i")
dress(rx_itbm, (-70.6, 105), [75, 25, 0, -25, -50], 12.5, "%d")
day_axis(rx_itbm, False)
tag(rx_itbm, recent_itbm[-1], f"{recent_itbm[-1]:.2f}", NAVY, bold=True)
tag(rx_itbm, recent_itbm_ema[-1], f"{recent_itbm_ema[-1]:.2f}", EMA_RED)

rx_itvm.axhline(0, color=ZERO_RED, lw=1.0)
line(rx_itvm, pd.DataFrame({"i": zoom_x, "value": recent_itvm_ema}), EMA_RED, 1.0, x="i")
line(rx_itvm, pd.DataFrame({"i": zoom_x, "value": recent_itvm}), OSC_GREEN, 1.0, x="i")
dress(rx_itvm, (-124, 51.7), [25, -25, -50, -75, -100], 12.5, "%d")
day_axis(rx_itvm, True)
tag(rx_itvm, recent_itvm[-1], f"{recent_itvm[-1]:.2f}", OSC_GREEN, bold=True)
tag(rx_itvm, recent_itvm_ema[-1], f"{recent_itvm_ema[-1]:.2f}", EMA_RED)

# panel legends
legend_line(ax_price, 0.976, [("  ", "black"),
                              (f" S&P 500 Large Cap Index (Daily) {recent_close[-1]:.2f}", "black")])
legend_line(ax_pmo, 0.958, [("━", "black"), (f" PMO(35,20,10) {recent_pmo[-1]:.2f}, ", "black"),
                            (f"{recent_pmo_sig[-1]:.2f}", ZERO_RED)])
legend_line(ax_itbm, 0.927, [("━", NAVY),
                             (f" SPX IT Breadth Momentum Osc (ITBM) {recent_itbm[-1]:.2f}", "black")])
legend_line(ax_itbm, 0.847, [("━", EMA_RED), (f"EMA(10) {recent_itbm_ema[-1]:.2f}", EMA_RED)])
legend_line(ax_itvm, 0.940, [("━", OSC_GREEN),
                             (f" SPX IT Volume Momentum Osc (ITVM) {recent_itvm[-1]:.2f}", "black")])
legend_line(ax_itvm, 0.857, [("━", EMA_RED), (f"EMA(10) {recent_itvm_ema[-1]:.2f}", EMA_RED)])

# header and title box, drawn on a pixel-space overlay
top = fig.add_axes([0, 0, 1, 1], zorder=10)
top.set_axis_off()
top.set_xlim(0, W)
top.set_ylim(H, 0)

top.text(17, 10, "$SPX", fontsize=8.8, fontweight="bold", va="center", ha="left")
top.text(55, 10, "S&P 500 Large Cap Index", fontsize=7, va="center", ha="left")
top.text(182, 10.5, "INDX", fontsize=6.3, va="center", ha="left")
top.text(17, 22.5, "19-Jun-2019", fontsize=7, va="center", ha="left")
top.text(1356, 9, "\u00a9StockCharts.com", fontsize=6.3, va="center", ha="right", color="#404040")

chg = recent_close[-1] - recent_close[-2]
quote = [("Open", True), (f" {recent_open[-1]:.2f}", False),
         ("  High", True), (f" {recent_high[-1]:.2f}", False),
         ("  Low", True), (f" {recent_low[-1]:.2f}", False),
         ("  Close", True), (f" {recent_close[-1]:.2f}", False),
         ("  Volume", True), (f" {recent_volume}", False),
         ("  Chg", True), (f" {chg:+.2f} ({chg / recent_close[-2] * 100:+.2f}%) \u25b2", False)]
prev = top.text(1356, 22.5, quote[-1][0], fontsize=7.6, family=HEAD_FONT, ha="right", va="center")
for txt, bold in reversed(quote[:-1]):
    prev = top.annotate(txt, xy=(0, 0), xycoords=prev, ha="right", va="bottom", fontsize=7.6,
                        family=HEAD_FONT, fontweight="bold" if bold else "normal")

top.add_patch(Rectangle((573, 97), 312, 33, fc="#A8A8A8", ec="none"))
top.add_patch(Rectangle((570, 94), 312, 33, fc="white", ec="#8E8E8E", lw=1))
top.text(726, 111, "Intermediate-Term Indicators", fontsize=BOX_SIZE, fontweight="bold",
         family=BOX_FONT, ha="center", va="center")

fig.savefig("out.png", dpi=100, facecolor=BG)
